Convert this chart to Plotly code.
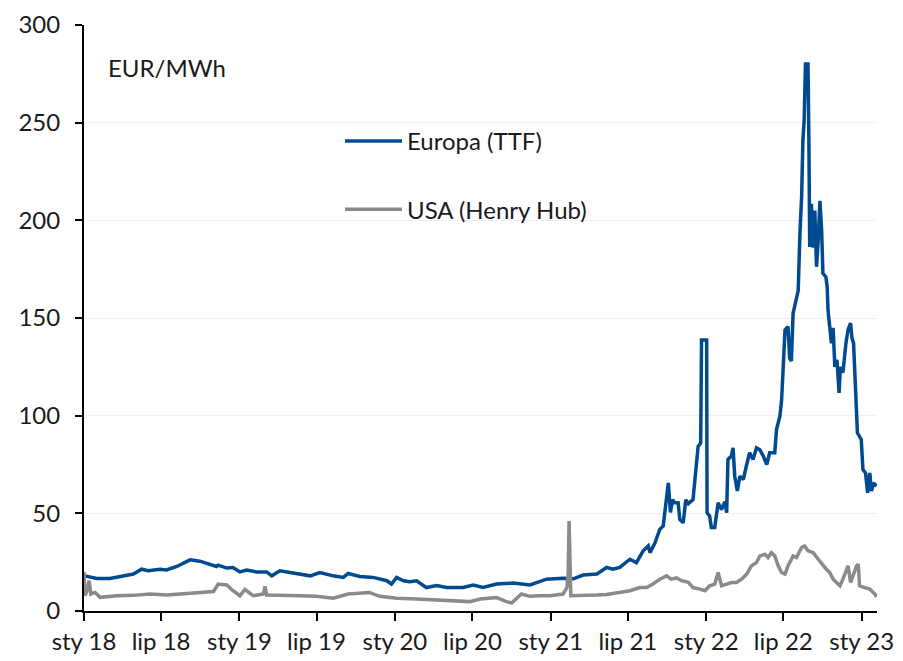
import plotly.graph_objects as go

# ---------------- data ----------------
ttf_dates = [
    "2018-01-03", "2018-01-31", "2018-03-03", "2018-04-03", "2018-04-27", "2018-05-16",
    "2018-06-01", "2018-06-28", "2018-07-14", "2018-08-07", "2018-08-26", "2018-09-07",
    "2018-09-30", "2018-10-20", "2018-11-08", "2018-11-12", "2018-12-02", "2018-12-17",
    "2019-01-02", "2019-01-18", "2019-02-10", "2019-03-06", "2019-03-18", "2019-04-06",
    "2019-05-07", "2019-06-16", "2019-07-09", "2019-08-09", "2019-09-02", "2019-09-13",
    "2019-10-11", "2019-11-11", "2019-12-13", "2019-12-24", "2020-01-05", "2020-01-21",
    "2020-02-05", "2020-02-21", "2020-03-15", "2020-04-08", "2020-05-01", "2020-06-09",
    "2020-07-03", "2020-07-26", "2020-08-27", "2020-10-05", "2020-11-13", "2020-12-22",
    "2021-01-30", "2021-02-23", "2021-03-18", "2021-04-19", "2021-05-12", "2021-05-27",
    "2021-06-12", "2021-07-06", "2021-07-21", "2021-08-06", "2021-08-18", "2021-08-22",
    "2021-09-02", "2021-09-14", "2021-09-22", "2021-09-30", "2021-10-04", "2021-10-09",
    "2021-10-14", "2021-10-19", "2021-10-27", "2021-10-31", "2021-11-08", "2021-11-14",
    "2021-11-20", "2021-12-01", "2021-12-08", "2021-12-13", "2021-12-19", "2021-12-21",
    "2022-01-02", "2022-01-03", "2022-01-09", "2022-01-13", "2022-01-21", "2022-01-29",
    "2022-02-06", "2022-02-14", "2022-02-18", "2022-02-21", "2022-03-01", "2022-03-05",
    "2022-03-09", "2022-03-15", "2022-03-21", "2022-03-29", "2022-04-06", "2022-04-13",
    "2022-04-21", "2022-04-29", "2022-05-07", "2022-05-15", "2022-05-23", "2022-05-30",
    "2022-06-11", "2022-06-15", "2022-06-23", "2022-06-27", "2022-07-05", "2022-07-12",
    "2022-07-16", "2022-07-20", "2022-07-24", "2022-08-01", "2022-08-05", "2022-08-09",
    "2022-08-13", "2022-08-16", "2022-08-19", "2022-08-22", "2022-08-28", "2022-08-30",
    "2022-09-01", "2022-09-05", "2022-09-09", "2022-09-13", "2022-09-17", "2022-09-21",
    "2022-09-25", "2022-09-29", "2022-10-02", "2022-10-09", "2022-10-12", "2022-10-14",
    "2022-10-18", "2022-10-22", "2022-10-26", "2022-10-30", "2022-11-04", "2022-11-09",
    "2022-11-12", "2022-11-18", "2022-11-25", "2022-11-30", "2022-12-06", "2022-12-09",
    "2022-12-13", "2022-12-18", "2022-12-22", "2022-12-31", "2023-01-04", "2023-01-10",
    "2023-01-15", "2023-01-20", "2023-01-24", "2023-01-29", "2023-02-05",
]
ttf_values = [
    18.0, 16.7, 16.7, 17.7, 18.9, 21.4,
    20.6, 21.4, 21.0, 22.8, 24.8, 26.2,
    25.5, 24.0, 22.8, 23.5, 22.0, 22.3,
    20.0, 21.0, 20.0, 20.0, 18.0, 20.6,
    19.5, 18.0, 19.7, 18.0, 17.2, 19.2,
    17.7, 17.2, 15.5, 13.8, 17.2, 15.5,
    15.0, 15.5, 12.0, 13.0, 12.0, 12.0,
    13.3, 12.0, 13.8, 14.3, 13.3, 16.3,
    16.8, 16.5, 18.4, 18.9, 22.3, 21.4,
    22.3, 26.5, 24.8, 30.8, 33.3, 29.9,
    34.5, 41.8, 43.5, 57.1, 65.6, 50.5,
    57.0, 55.4, 55.4, 46.9, 45.2, 57.0,
    55.0, 57.0, 72.4, 84.3, 86.0, 138.8,
    138.8, 50.3, 48.6, 42.7, 42.7, 55.4,
    52.0, 56.0, 50.3, 77.6, 79.3, 83.5,
    69.0, 61.4, 69.0, 67.3, 75.0, 81.0,
    77.6, 83.5, 82.5, 79.3, 75.0, 81.0,
    81.0, 92.9, 99.7, 108.0, 143.9, 145.6,
    129.4, 128.0, 152.4, 159.0, 164.0, 193.0,
    212.0, 240.8, 251.0, 280.0, 280.0, 242.5,
    186.4, 208.5, 186.0, 205.0, 176.2, 190.0,
    210.0, 195.0, 172.8, 171.0, 166.0, 154.0,
    145.6, 137.0, 145.0, 125.0, 128.6, 111.6,
    125.0, 122.0, 137.0, 144.0, 147.3, 140.0,
    137.0, 111.6, 91.2, 87.8, 72.4, 70.7,
    60.5, 70.7, 61.4, 65.6, 64.0,
]

hh_dates = [
    "2018-01-01", "2018-01-03", "2018-01-07", "2018-01-13", "2018-01-17", "2018-01-27",
    "2018-02-08", "2018-03-19", "2018-04-27", "2018-06-05", "2018-07-14", "2018-08-22",
    "2018-09-30", "2018-11-01", "2018-11-12", "2018-12-02", "2018-12-17", "2019-01-02",
    "2019-01-14", "2019-02-02", "2019-02-26", "2019-03-02", "2019-03-06", "2019-04-14",
    "2019-05-23", "2019-07-01", "2019-08-09", "2019-09-13", "2019-11-02", "2019-11-26",
    "2020-01-05", "2020-02-21", "2020-05-01", "2020-06-25", "2020-07-19", "2020-08-27",
    "2020-09-19", "2020-10-01", "2020-10-24", "2020-11-13", "2020-12-06", "2020-12-30",
    "2021-01-30", "2021-02-08", "2021-02-11", "2021-02-13", "2021-02-17", "2021-03-10",
    "2021-04-19", "2021-05-12", "2021-06-12", "2021-07-06", "2021-07-29", "2021-08-14",
    "2021-08-29", "2021-09-14", "2021-09-30", "2021-10-11", "2021-10-23", "2021-11-04",
    "2021-11-20", "2021-12-01", "2021-12-17", "2021-12-29", "2022-01-09", "2022-01-21",
    "2022-01-29", "2022-02-06", "2022-02-18", "2022-03-01", "2022-03-13", "2022-03-25",
    "2022-04-06", "2022-04-17", "2022-04-29", "2022-05-07", "2022-05-19", "2022-05-26",
    "2022-06-03", "2022-06-11", "2022-06-19", "2022-06-27", "2022-07-05", "2022-07-12",
    "2022-07-24", "2022-08-01", "2022-08-13", "2022-08-20", "2022-08-28", "2022-09-09",
    "2022-09-21", "2022-10-02", "2022-10-10", "2022-10-18", "2022-10-26", "2022-11-03",
    "2022-11-11", "2022-11-18", "2022-11-26", "2022-11-30", "2022-12-06", "2022-12-12",
    "2022-12-20", "2022-12-24", "2022-12-27", "2023-01-08", "2023-01-20", "2023-02-01",
    "2023-02-05",
]
hh_values = [
    20.0, 8.0, 9.5, 15.5, 8.7, 9.5,
    7.0, 7.8, 8.0, 8.7, 8.2, 8.7,
    9.5, 10.0, 13.8, 13.3, 10.4, 7.8,
    11.0, 7.8, 8.7, 12.6, 8.2, 7.8,
    7.8, 7.5, 6.5, 8.7, 9.5, 7.5,
    6.5, 6.1, 5.3, 4.8, 6.1, 6.9,
    4.8, 4.1, 8.7, 7.5, 7.8, 7.8,
    8.7, 12.0, 20.0, 46.0, 7.8, 7.8,
    8.2, 8.5, 9.5, 10.4, 12.0, 12.0,
    13.8, 16.3, 18.0, 16.3, 17.0, 15.5,
    14.7, 12.0, 11.2, 10.4, 12.9, 13.8,
    19.7, 12.9, 13.8, 14.6, 14.6, 16.3,
    18.9, 23.1, 24.8, 28.2, 29.0, 27.4,
    29.9, 28.2, 23.1, 19.7, 18.9, 23.1,
    28.2, 27.4, 32.5, 33.3, 30.8, 29.9,
    26.5, 23.1, 21.4, 19.7, 16.3, 14.6,
    12.9, 16.3, 21.4, 23.1, 14.6, 18.0,
    23.1, 24.0, 12.9, 12.0, 11.2, 8.7,
    7.3,
]

tick_dates = ["2018-01-01", "2018-07-01", "2019-01-01", "2019-07-01", "2020-01-01",
              "2020-07-01", "2021-01-01", "2021-07-01", "2022-01-01", "2022-07-01",
              "2023-01-01"]
tick_labels = ["sty 18", "lip 18", "sty 19", "lip 19", "sty 20", "lip 20",
               "sty 21", "lip 21", "sty 22", "lip 22", "sty 23"]
y_ticks = [0, 50, 100, 150, 200, 250, 300]

series_names = ["Europa (TTF)", "USA (Henry Hub)"]
unit_label = "EUR/MWh"

# ---------------- styling ----------------
FONT = "Lato, 'DejaVu Sans', sans-serif"
BLUE = "#004A91"
GREY = "#8A8A8A"
# the page body adds an 8px offset; size the figure so it ends at the window edge
W, H = 895, 653
M_L, M_R, M_T, M_B = 76, 26, 17, 50
OFF = 8
plot_w = W - M_L - M_R
plot_h = H - M_T - M_B
PL, PT = M_L + OFF, M_T + OFF   # plot area left/top in window pixels


def px_x(wx):
    return (wx - PL) / plot_w


def px_y(wy):
    return 1 - (wy - PT) / plot_h


fig = go.Figure()
fig.add_trace(go.Scatter(x=ttf_dates, y=ttf_values, mode="lines", name=series_names[0],
                         line=dict(color=BLUE, width=3.5), legendgroup="a"))
fig.add_trace(go.Scatter(x=hh_dates, y=hh_values, mode="lines", name=series_names[1],
                         line=dict(color=GREY, width=3.5), legendgroup="b"))

fig.update_layout(
    width=W, height=H,
    margin=dict(l=M_L, r=M_R, t=M_T, b=M_B, autoexpand=False),
    paper_bgcolor="white", plot_bgcolor="white",
    font=dict(family=FONT, size=24, color="#1a1a1a"),
    showlegend=True,
    legend=dict(
        x=px_x(340), y=px_y(119),
        xanchor="left", yanchor="top",
        bgcolor="rgba(0,0,0,0)", font=dict(size=24, family=FONT, color="#1a1a1a"),
        tracegroupgap=34, itemwidth=57,
    ),
    xaxis=dict(
        type="date", range=["2018-01-01", "2023-02-06"],
        tickvals=tick_dates, ticktext=tick_labels,
        showgrid=False, zeroline=False, automargin=False,
        showline=True, linecolor="black", linewidth=2,
        ticks="outside", ticklen=8, tickwidth=2, tickcolor="black",
        tickfont=dict(size=24, family=FONT, color="#1a1a1a"),
    ),
    yaxis=dict(
        range=[0, 300], tickvals=y_ticks,
        showgrid=True, gridcolor="#f0f0f0", gridwidth=1,
        zeroline=False, automargin=False,
        showline=True, linecolor="black", linewidth=2,
        ticks="outside", ticklen=7, tickwidth=2, tickcolor="black",
        ticklabelstandoff=10,
        tickfont=dict(size=24, family=FONT, color="#1a1a1a"),
    ),
    annotations=[dict(
        text=unit_label, xref="paper", yref="paper",
        x=px_x(106), y=px_y(68),
        xanchor="left", yanchor="middle", showarrow=False,
        font=dict(size=24, family=FONT, color="#1a1a1a"),
    )],
)

fig.write_html("out.html")
